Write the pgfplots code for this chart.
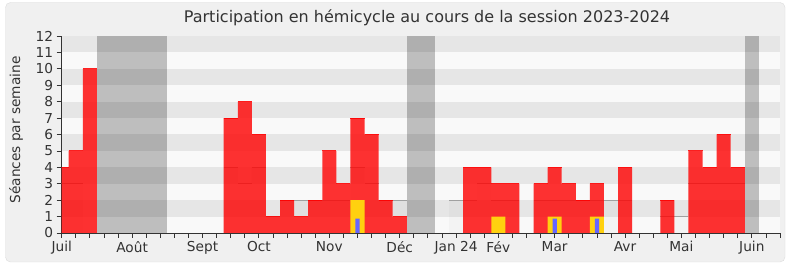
\documentclass[border=0pt]{standalone}
\usepackage{fontspec}
\setmainfont{DejaVu Sans}
\usepackage{pgfplots}
\usepackage{pgfplotstable}
\pgfplotsset{compat=1.18}
\definecolor{framebg}{HTML}{F0F0F0}
\definecolor{framedraw}{HTML}{DCDCDC}
\definecolor{plotbg}{HTML}{F9F9F9}
\definecolor{stripe}{HTML}{E6E6E6}
\definecolor{txt}{HTML}{333333}
\definecolor{barred}{HTML}{FF0000}
\definecolor{gold}{HTML}{FFD10F}
\definecolor{blu}{HTML}{6666FF}
\definecolor{med}{HTML}{A0A0A0}

% weekly sessions of the deputy (week index k, value)
\pgfplotstableread{
k v
0 4
1 5
2 10
12 7
13 8
14 6
15 1
16 2
17 1
18 2
19 5
20 3
21 7
22 6
23 2
24 1
29 4
30 4
31 3
32 3
34 3
35 4
36 3
37 2
38 3
40 4
43 2
45 5
46 4
47 6
48 4
}\redtab

% median participation of all deputies
\pgfplotstableread{
k m
0 3
1 3
12 4
13 3
14 4
15 1
16 2
17 2
18 2
19 2
20 2
21 4
22 3
23 2
24 2
28 2
29 2
30 3
31 2
32 2
34 2
35 2
36 2
37 2
38 2
39 2
40 2
43 1
44 1
45 3
46 3
47 3
48 3
}\medtab

\pgfplotstableread{
k v
21 2
31 1
35 1
38 1
}\goldtab

\pgfplotstableread{
k v
21 0.87
35 0.87
38 0.87
}\bluetab

\begin{document}
\begin{tikzpicture}[x=1pt,y=1pt]
\useasboundingbox (0,0) rectangle (790,267);
\fill[white] (0,0) rectangle (790,267);
\filldraw[fill=framebg, draw=framedraw, rounded corners=5pt] (5.5,5) rectangle (785,264.5);
\node[text=txt, font=\fontsize{16}{19}\selectfont] at (427,249) {Participation en hémicycle au cours de la session 2023-2024};
\node[text=txt, font=\fontsize{13.7}{16}\selectfont, rotate=90] at (16,137) {Séances par semaine};
\begin{axis}[
  at={(61.7pt,34pt)}, anchor=south west,
  scale only axis, width=718.3pt, height=197pt,
  xmin=0, xmax=51, ymin=0, ymax=12,
  axis background/.style={fill=plotbg},
  axis x line*=bottom, axis y line*=left,
  axis line style={draw=txt, line width=0.9pt},
  tick align=outside,
  major tick length=5pt,
  tick style={draw=txt, line width=0.8pt},
  xtick={0,...,51}, xticklabels={},
  extra x ticks={0,5,10,14,19,24,28,31,35,40,44,49},
  extra x tick labels={Juil,Août,Sept,Oct,Nov,Déc,Jan 24,Fév,Mar,Avr,Mai,Juin},
  extra x tick style={tick style={draw=txt, line width=0.8pt}},
  ytick={0,...,12},
  tick label style={font=\fontsize{13.7}{16}\selectfont, text=txt},
  /pgf/number format/assume math mode=true,
  unbounded coords=jump,
  clip=true,
]
% background stripes
\fill[stripe] (axis cs:0,1) rectangle (axis cs:51,2);
\fill[stripe] (axis cs:0,3) rectangle (axis cs:51,4);
\fill[stripe] (axis cs:0,5) rectangle (axis cs:51,6);
\fill[stripe] (axis cs:0,7) rectangle (axis cs:51,8);
\fill[stripe] (axis cs:0,9) rectangle (axis cs:51,10);
\fill[stripe] (axis cs:0,11) rectangle (axis cs:51,12);
% holidays
\addplot[fill=black, fill opacity=0.235, draw=none] coordinates {(2.5,12) (7.5,12)} \closedcycle;
\addplot[fill=black, fill opacity=0.235, draw=none] coordinates {(24.5,12) (26.5,12)} \closedcycle;
\addplot[fill=black, fill opacity=0.235, draw=none] coordinates {(48.5,12) (49.5,12)} \closedcycle;
% median: light fill and line
\addplot[ybar, bar width=1, bar shift=0pt, fill=black, fill opacity=0.025, draw=none] table[x=k,y=m]{\medtab};
\addplot[med, line width=1pt] coordinates {
(-0.5,3) (1.5,3) (1.5,nan)
(11.5,4) (12.5,4) (12.5,nan)
(12.5,3) (13.5,3) (13.5,nan)
(13.5,4) (14.5,4) (14.5,nan)
(14.5,1) (15.5,1) (15.5,nan)
(15.5,2) (20.5,2) (20.5,nan)
(20.5,4) (21.5,4) (21.5,nan)
(21.5,3) (22.5,3) (22.5,nan)
(22.5,2) (24.5,2) (24.5,nan)
(27.5,2) (29.5,2) (29.5,nan)
(29.5,3) (30.5,3) (30.5,nan)
(30.5,2) (32.5,2) (32.5,nan)
(33.5,2) (40.5,2) (40.5,nan)
(42.5,1) (44.5,1) (44.5,nan)
(44.5,3) (48.5,3)
};
% deputy bars
\addplot[ybar, bar width=1, bar shift=0pt, fill=barred, fill opacity=0.8, draw=none] table[x=k,y=v]{\redtab};
\addplot[barred, line width=1.1pt, opacity=0.85] coordinates {
(-0.5,4) (0.5,4) (0.5,nan)
(0.5,5) (1.5,5) (1.5,nan)
(1.5,10) (2.5,10) (2.5,nan)
(11.5,7) (12.5,7) (12.5,nan)
(12.5,8) (13.5,8) (13.5,nan)
(13.5,6) (14.5,6) (14.5,nan)
(14.5,1) (15.5,1) (15.5,nan)
(15.5,2) (16.5,2) (16.5,nan)
(16.5,1) (17.5,1) (17.5,nan)
(17.5,2) (18.5,2) (18.5,nan)
(18.5,5) (19.5,5) (19.5,nan)
(19.5,3) (20.5,3) (20.5,nan)
(20.5,7) (21.5,7) (21.5,nan)
(21.5,6) (22.5,6) (22.5,nan)
(22.5,2) (23.5,2) (23.5,nan)
(23.5,1) (24.5,1) (24.5,nan)
(28.5,4) (30.5,4) (30.5,nan)
(30.5,3) (32.5,3) (32.5,nan)
(33.5,3) (34.5,3) (34.5,nan)
(34.5,4) (35.5,4) (35.5,nan)
(35.5,3) (36.5,3) (36.5,nan)
(36.5,2) (37.5,2) (37.5,nan)
(37.5,3) (38.5,3) (38.5,nan)
(39.5,4) (40.5,4) (40.5,nan)
(42.5,2) (43.5,2) (43.5,nan)
(44.5,5) (45.5,5) (45.5,nan)
(45.5,4) (46.5,4) (46.5,nan)
(46.5,6) (47.5,6) (47.5,nan)
(47.5,4) (48.5,4)
};
\addplot[ybar, bar width=1, bar shift=0pt, fill=gold, draw=none] table[x=k,y=v]{\goldtab};
\addplot[ybar, bar width=0.3, bar shift=0pt, fill=blu, draw=none] table[x=k,y=v]{\bluetab};
\end{axis}
\end{tikzpicture}
\end{document}
